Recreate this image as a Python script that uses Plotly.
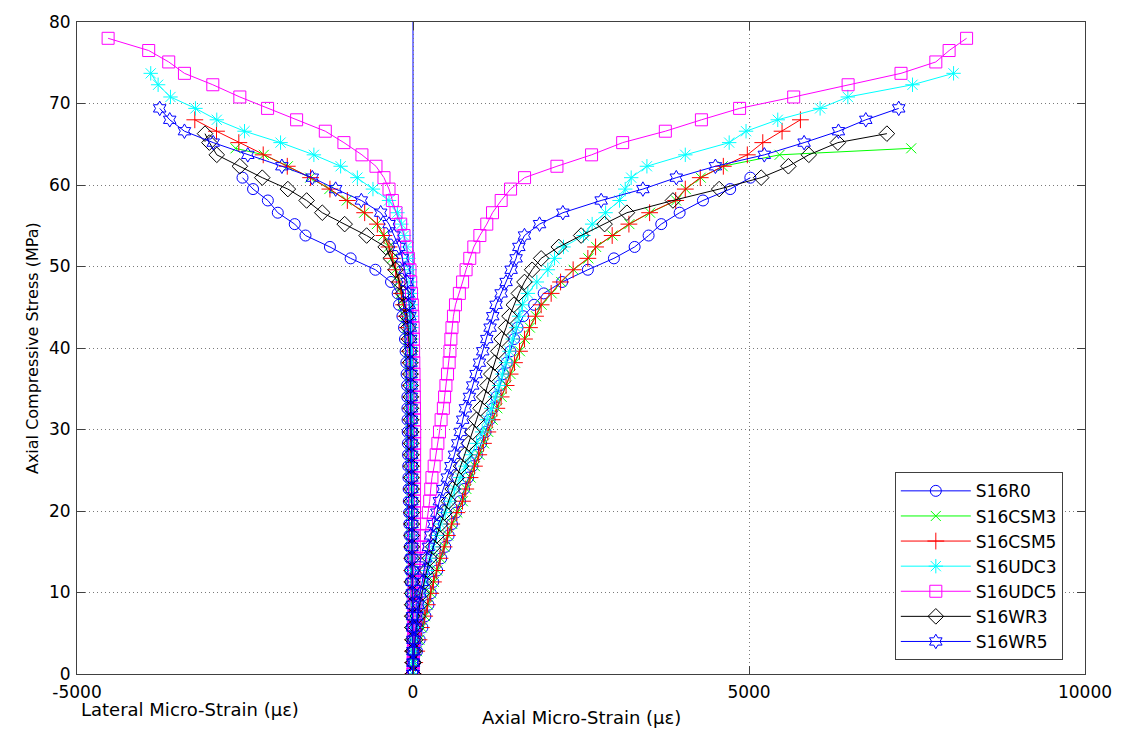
import plotly.graph_objects as go

# Load steps applied during the tests (MPa)
LOAD_STEPS = [0.0, 1.4, 2.8, 4.2, 5.7, 7.1, 8.5, 9.9, 11.3, 12.7,
              14.2, 15.6, 17.0, 18.4, 19.8, 21.2, 22.7, 24.1, 25.5, 26.9,
              28.3, 29.7, 31.2, 32.6, 34.0, 35.4, 36.8, 38.2, 39.6, 41.1,
              42.5, 43.9, 45.3, 46.7, 48.1, 49.6, 51.0, 52.4, 53.8, 55.2,
              56.6, 58.1, 59.5, 60.9, 62.3, 63.7, 65.2, 66.6, 68.0, 69.4,
              70.8, 72.3, 73.7, 75.1, 76.5, 78.0]

# S16R0
r0_stress = LOAD_STEPS[:44]
r0_axial = [0, 25, 60, 100, 140, 185, 230, 265, 300, 360,
            420, 480, 530, 580, 640, 700, 760, 820, 885, 950,
            1015, 1080, 1140, 1190, 1240, 1290, 1340, 1395, 1450, 1505,
            1555, 1640, 1802, 1945, 2219, 2602, 2990, 3298, 3506, 3694,
            3968, 4315, 4720, 5020]
r0_lateral = [0, -5, -9, -13, -18, -22, -27, -31, -35, -40,
              -44, -48, -51, -55, -58, -62, -65, -68, -71, -74,
              -76, -79, -81, -83, -84, -88, -95, -99, -110, -119,
              -134, -158, -208, -228, -327, -560, -928, -1236, -1600, -1760,
              -2012, -2160, -2380, -2537]

# S16CSM3
csm3_stress = LOAD_STEPS[:46] + [64.5]
csm3_axial = [0, 22, 60, 95, 132, 180, 222, 270, 312, 360,
              410, 470, 522, 585, 660, 742, 795, 858, 922, 988,
              1058, 1120, 1186, 1255, 1320, 1392, 1452, 1518, 1592, 1665,
              1740, 1830, 1915, 2064, 2205, 2390, 2610, 2725, 2970, 3220,
              3528, 3915, 4060, 4282, 4609, 5455, 7414]
csm3_lateral = [0, -2, -5, -7, -8, -11, -12, -13, -15, -16,
                -16, -18, -19, -19, -21, -23, -23, -25, -25, -27,
                -28, -29, -31, -33, -34, -37, -40, -45, -53, -68,
                -88, -114, -145, -178, -212, -262, -312, -362, -440, -538,
                -728, -985, -1245, -1530, -1862, -2220, -2641]

# S16CSM5
csm5_stress = LOAD_STEPS[:49]
csm5_axial = [0, 25, 55, 89, 125, 174, 214, 264, 304, 353,
              402, 462, 512, 576, 651, 736, 785, 849, 914, 978,
              1048, 1113, 1177, 1247, 1311, 1385, 1445, 1510, 1585, 1659,
              1734, 1823, 1907, 2056, 2196, 2383, 2602, 2717, 2964, 3213,
              3521, 3909, 4052, 4275, 4618, 4975, 5205, 5492, 5765]
csm5_lateral = [0, -3, -5, -6, -9, -10, -12, -14, -14, -16,
                -17, -18, -18, -20, -21, -22, -22, -24, -25, -26,
                -27, -28, -30, -31, -33, -35, -38, -42, -50, -65,
                -85, -110, -140, -173, -208, -258, -307, -357, -432, -530,
                -719, -977, -1236, -1524, -1871, -2229, -2592, -2924, -3247]

# S16UDC3
udc3_stress = LOAD_STEPS[:53]
udc3_axial = [0, 10, 25, 42, 62, 85, 110, 140, 175, 215,
              255, 300, 350, 410, 480, 550, 620, 700, 780, 860,
              945, 1030, 1100, 1165, 1225, 1280, 1330, 1385, 1436, 1485,
              1535, 1580, 1630, 1709, 1843, 2007, 2106, 2240, 2538, 2666,
              2866, 3074, 3158, 3247, 3481, 4052, 4705, 4956, 5428, 6058,
              6471, 7433, 8044]
udc3_lateral = [0, -2, -4, -6, -8, -10, -11, -12, -13, -14,
                -15, -15, -16, -16, -17, -17, -18, -18, -18, -19,
                -19, -19, -20, -20, -20, -21, -21, -22, -22, -23,
                -24, -25, -26, -28, -38, -50, -69, -94, -134, -173,
                -232, -357, -596, -828, -1077, -1475, -1971, -2507, -2920, -3237,
                -3609, -3793, -3903]

# S16UDC5
udc5_stress = LOAD_STEPS[:56]
udc5_axial = [0, 5, 10, 16, 24, 32, 42, 55, 70, 90,
              115, 155, 178, 202, 228, 248, 264, 282, 315, 345,
              370, 394, 418, 452, 470, 490, 514, 538, 550, 564,
              580, 602, 632, 690, 738, 790, 845, 905, 995, 1098,
              1183, 1312, 1452, 1660, 2142, 2657, 3120, 3755, 4292, 4860,
              5665, 6475, 7262, 7780, 7978, 8238]
udc5_lateral = [0, 2, 5, 8, 10, 12, 14, 15, 16, 18,
                19, 20, 21, 22, 22, 23, 23, 24, 24, 24,
                25, 25, 24, 22, 20, 18, 15, 12, 9, 6,
                2, -3, -10, -22, -34, -45, -69, -94, -134, -183,
                -253, -307, -357, -432, -551, -760, -1028, -1305, -1732, -2164,
                -2577, -2979, -3401, -3635, -3933, -4537]

# S16WR3
wr3_stress = LOAD_STEPS[:47] + [66.3]
wr3_axial = [0, 8, 18, 32, 50, 72, 100, 130, 165, 205,
             250, 300, 355, 410, 470, 530, 590, 650, 715, 770,
             830, 885, 945, 1005, 1060, 1110, 1165, 1215, 1270, 1320,
             1385, 1436, 1500, 1575, 1659, 1773, 1907, 2170, 2502, 2851,
             3183, 3868, 4556, 5181, 5586, 5890, 6322, 7052]
wr3_lateral = [0, -2, -4, -5, -7, -9, -10, -12, -13, -14,
               -15, -17, -18, -19, -20, -21, -22, -24, -25, -26,
               -27, -29, -30, -32, -34, -36, -39, -43, -50, -60,
               -72, -90, -115, -150, -200, -258, -332, -407, -690, -1017,
               -1350, -1583, -1862, -2243, -2577, -2920, -3030, -3095]

# S16WR5
wr5_stress = LOAD_STEPS[:50]
wr5_axial = [0, 6, 15, 28, 42, 60, 80, 104, 138, 160,
             189, 229, 264, 310, 355, 392, 450, 510, 565, 617,
             666, 706, 740, 780, 840, 889, 938, 989, 1038, 1098,
             1147, 1187, 1236, 1311, 1385, 1460, 1534, 1575, 1659, 1883,
             2230, 2800, 3421, 3918, 4500, 5228, 5820, 6331, 6738, 7228]
wr5_lateral = [0, -1, -3, -4, -5, -7, -8, -9, -10, -11,
               -12, -13, -13, -14, -15, -16, -16, -17, -18, -19,
               -20, -21, -22, -23, -24, -25, -27, -29, -31, -34,
               -38, -45, -55, -70, -90, -120, -158, -208, -283, -357,
               -481, -769, -1151, -1498, -1951, -2458, -2973, -3401, -3620, -3769]

# Axis ticks
x_ticks = [-5000, 0, 5000, 10000]
x_tick_labels = ["-5000", "0", "5000", "10000"]
y_ticks = [0, 10, 20, 30, 40, 50, 60, 70, 80]

specimens = [
    ("S16R0", r0_stress, r0_lateral, r0_axial, "#0000ff", "circle-open", 11),
    ("S16CSM3", csm3_stress, csm3_lateral, csm3_axial, "#00ff00", "x-thin-open", 10),
    ("S16CSM5", csm5_stress, csm5_lateral, csm5_axial, "#ff0000", "cross-thin-open", 12),
    ("S16UDC3", udc3_stress, udc3_lateral, udc3_axial, "#00ffff", "asterisk-open", 12),
    ("S16UDC5", udc5_stress, udc5_lateral, udc5_axial, "#ff00ff", "square-open", 12),
    ("S16WR3", wr3_stress, wr3_lateral, wr3_axial, "#000000", "diamond-open", 12),
    ("S16WR5", wr5_stress, wr5_lateral, wr5_axial, "#0000ff", "hexagram-open", 11),
]

FONT = "DejaVu Sans, Arial, sans-serif"

fig = go.Figure()
for name, stress, lateral, axial, color, symbol, msize in specimens:
    style = dict(
        mode="lines+markers",
        line=dict(color=color, width=1),
        marker=dict(symbol=symbol, size=msize, color=color, line=dict(width=1, color=color)),
        legendgroup=name,
    )
    fig.add_trace(go.Scatter(x=axial, y=stress, name=name, showlegend=True, **style))
    fig.add_trace(go.Scatter(x=lateral, y=stress, name=name, showlegend=False, **style))

# zero-strain reference line
fig.add_shape(type="line", xref="x", yref="paper", x0=0, x1=0, y0=0, y1=1,
              line=dict(color="#0000ff", width=1), layer="between")

axis_common = dict(
    showgrid=True, gridcolor="#7a7a7a", griddash="1px,3px", gridwidth=1,
    zeroline=False, showline=True, linecolor="#404040", linewidth=1,
    mirror="ticks", ticks="inside", ticklen=8, tickcolor="#404040",
    tickfont=dict(family=FONT, size=17, color="#000000"),
)

fig.update_xaxes(range=[-5000, 10000], tickvals=x_ticks, ticktext=x_tick_labels,
                 ticklabelstandoff=3, **axis_common)
fig.update_yaxes(range=[0, 80], tickvals=y_ticks, ticklabelstandoff=2, **axis_common)

fig.add_annotation(text="Axial Compressive Stress (MPa)", xref="paper", yref="paper",
                   x=-0.056, y=0.5, textangle=-90, showarrow=False,
                   font=dict(family=FONT, size=16, color="#000000"))
fig.add_annotation(text="Axial Micro-Strain (με)", xref="paper", yref="paper",
                   x=0.5, y=-0.066, showarrow=False, yanchor="middle",
                   font=dict(family=FONT, size=18, color="#000000"))
fig.add_annotation(text="Lateral Micro-Strain (με)", xref="paper", yref="paper",
                   x=0.002, y=-0.055, showarrow=False, xanchor="left", yanchor="middle",
                   font=dict(family=FONT, size=18, color="#000000"))

fig.update_layout(
    width=1126, height=729,
    margin=dict(l=77, r=41, t=17, b=55),
    paper_bgcolor="white", plot_bgcolor="white",
    showlegend=True,
    legend=dict(x=0.978, y=0.021, xanchor="right", yanchor="bottom",
                bgcolor="white", bordercolor="#404040", borderwidth=1,
                font=dict(family=FONT, size=17, color="#000000"),
                tracegroupgap=0, itemwidth=70),
)

fig.write_html("out.html")
